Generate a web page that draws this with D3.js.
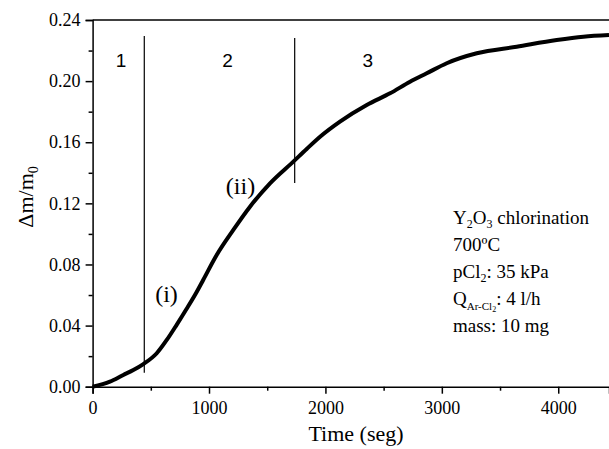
<!DOCTYPE html>
<html>
<head>
<meta charset="utf-8">
<script src="https://cdn.jsdelivr.net/npm/d3@7/dist/d3.min.js"></script>
<style>
  html, body { margin: 0; padding: 0; background: #fff; }
  svg { display: block; }
  text { font-family: "Liberation Serif", "Times New Roman", Times, serif; fill: #000; }
  text.sans { font-family: "Liberation Sans", Arial, Helvetica, sans-serif; }
</style>
</head>
<body>
<script>
// ---- data ----
const timeSec = [0, 149, 264, 350, 436, 551, 637, 722, 808, 894, 951, 1066, 1209, 1352, 1524, 1724, 1839, 1954, 2125, 2355, 2555, 2727, 2870, 3042, 3300, 3643, 3987, 4216, 4436];
const massGain = [0.0, 0.0033, 0.0077, 0.0109, 0.0148, 0.0219, 0.0306, 0.0405, 0.0510, 0.0620, 0.0700, 0.0862, 0.1026, 0.1178, 0.1331, 0.1473, 0.1556, 0.1636, 0.1735, 0.1844, 0.1920, 0.1996, 0.2051, 0.2117, 0.2182, 0.2225, 0.2269, 0.2291, 0.2302];
const xTicks = [0, 1000, 2000, 3000, 4000];
const xMinorTicks = [500, 1500, 2500, 3500];
const yTicks = [0.00, 0.04, 0.08, 0.12, 0.16, 0.20, 0.24];
const yMinorTicks = [0.02, 0.06, 0.10, 0.14, 0.18, 0.22];
// stage dividers: time, top value, bottom value
const dividers = [
  { t: 444, top: 0.2295, bottom: 0.0092 },
  { t: 1736, top: 0.2282, bottom: 0.1333 }
];
const stageLabels = [
  { label: "1", t: 245 },
  { label: "2", t: 1159 },
  { label: "3", t: 2363 }
];
const curveLabels = ["(i)", "(ii)"];

const W = 609, H = 449;
const SERIF = "'Liberation Serif', 'Times New Roman', Times, serif";
const x = d3.scaleLinear().domain([0, 4436]).range([92.6, 609]);
const y = d3.scaleLinear().domain([0, 0.24]).range([386.7, 20]);

const svg = d3.select("body").append("svg").attr("width", W).attr("height", H);

// frame: top line
svg.append("line").attr("x1", x(0)).attr("x2", W).attr("y1", y(0.24)).attr("y2", y(0.24))
  .attr("stroke", "#000").attr("stroke-width", 1.5);

function clean(g) { g.attr("font-family", null).attr("font-size", null); }

// y axis
const gy = svg.append("g").attr("transform", `translate(${x(0)},0)`)
  .call(d3.axisLeft(y).tickValues(yTicks).tickFormat(d3.format(".2f")).tickSize(7).tickPadding(5));
clean(gy);
gy.selectAll(".tick text").style("font-size", "18px").style("font-family", SERIF);
const gyMinor = svg.append("g").attr("transform", `translate(${x(0)},0)`)
  .call(d3.axisLeft(y).tickValues(yMinorTicks).tickFormat("").tickSize(4));
gyMinor.select(".domain").remove();

// x axis
const gx = svg.append("g").attr("transform", `translate(0,${y(0)})`)
  .call(d3.axisBottom(x).tickValues(xTicks).tickFormat(d3.format("d")).tickSize(7).tickPadding(8));
clean(gx);
gx.selectAll(".tick text").style("font-size", "18px").style("font-family", SERIF);
const gxMinor = svg.append("g").attr("transform", `translate(0,${y(0)})`)
  .call(d3.axisBottom(x).tickValues(xMinorTicks).tickFormat("").tickSize(4));
gxMinor.select(".domain").remove();

svg.selectAll(".domain").attr("stroke-width", 1.5);
svg.selectAll(".tick line").attr("stroke-width", 1.5);

// axis titles
svg.append("text").attr("x", 356).attr("y", 441).attr("text-anchor", "middle")
  .style("font-size", "22px").text("Time (seg)");
const yl = svg.append("text").attr("transform", "translate(33,197) rotate(-90)")
  .attr("text-anchor", "middle").style("font-size", "22px");
yl.append("tspan").text("Δm/m");
yl.append("tspan").attr("dy", 5).style("font-size", "14px").text("0");

// dividers
svg.selectAll(".divider").data(dividers).enter().append("line")
  .attr("x1", d => x(d.t)).attr("x2", d => x(d.t))
  .attr("y1", d => y(d.top)).attr("y2", d => y(d.bottom))
  .attr("stroke", "#000").attr("stroke-width", 1.2);

// curve
const line = d3.line().x((d, i) => x(timeSec[i])).y(d => y(d)).curve(d3.curveMonotoneX);
svg.append("path").datum(massGain).attr("d", line)
  .attr("fill", "none").attr("stroke", "#000").attr("stroke-width", 4).attr("stroke-linejoin", "round");

// stage labels
svg.selectAll(".stage").data(stageLabels).enter().append("text").attr("class", "sans")
  .attr("x", d => x(d.t)).attr("y", 67).attr("text-anchor", "middle")
  .style("font-size", "19px").text(d => d.label);

// curve labels
svg.append("text").attr("x", 166.5).attr("y", 302).attr("text-anchor", "middle").style("font-size", "24px").text(curveLabels[0]);
svg.append("text").attr("x", 240.5).attr("y", 194).attr("text-anchor", "middle").style("font-size", "24px").text(curveLabels[1]);

// condition annotation
const ax = 453, fs = "19px";
let t1 = svg.append("text").attr("x", ax).attr("y", 224).style("font-size", fs);
t1.append("tspan").text("Y");
t1.append("tspan").attr("dy", 4).style("font-size", "12px").text("2");
t1.append("tspan").attr("dy", -4).text("O");
t1.append("tspan").attr("dy", 4).style("font-size", "12px").text("3");
t1.append("tspan").attr("dy", -4).text(" chlorination");
svg.append("text").attr("x", ax).attr("y", 251).style("font-size", fs).text("700ºC");
let t3 = svg.append("text").attr("x", ax).attr("y", 278).style("font-size", fs);
t3.append("tspan").text("pCl");
t3.append("tspan").attr("dy", 4).style("font-size", "12px").text("2");
t3.append("tspan").attr("dy", -4).text(": 35 kPa");
let t4 = svg.append("text").attr("x", ax).attr("y", 305).style("font-size", fs);
t4.append("tspan").text("Q");
t4.append("tspan").attr("dy", 5).style("font-size", "11px").text("Ar-Cl");
t4.append("tspan").attr("dy", 2).style("font-size", "8px").text("2");
t4.append("tspan").attr("dy", -7).text(": 4 l/h");
svg.append("text").attr("x", ax).attr("y", 332).style("font-size", fs).text("mass: 10 mg");
</script>
</body>
</html>
